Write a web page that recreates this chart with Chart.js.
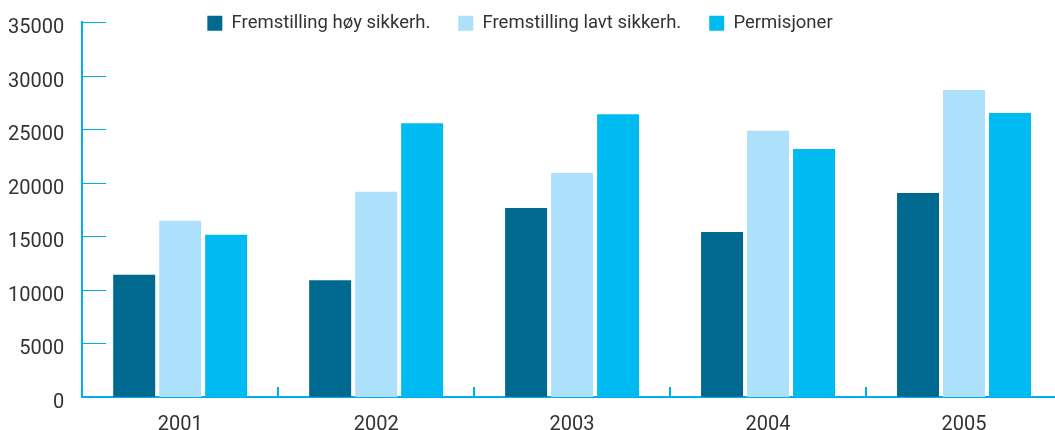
<!DOCTYPE html>
<html>
<head>
<meta charset="utf-8">
<script src="https://cdn.jsdelivr.net/npm/chart.js@4"></script>
<style>
  html, body { margin: 0; padding: 0; background: #fff; overflow: hidden; }
  #wrap { width: 1062px; height: 430px; position: relative; }
</style>
</head>
<body>
<div id="wrap"><canvas id="chart"></canvas></div>
<script>
// Data
const years = ['2001', '2002', '2003', '2004', '2005'];
const hoySikkerhet = [11400, 10900, 17650, 15400, 19050];
const lavtSikkerhet = [16450, 19150, 20900, 24850, 28650];
const permisjoner = [15150, 25550, 26400, 23150, 26500];
const seriesNames = ['Fremstilling høy sikkerh.', 'Fremstilling lavt sikkerh.', 'Permisjoner'];

const AXIS = '#00AEEF';
const TEXT = '#333333';

// short tick marks drawn inside the plot, like the original
const innerTicks = {
  id: 'innerTicks',
  afterDraw(chart) {
    const { ctx, chartArea, scales } = chart;
    ctx.save();
    ctx.strokeStyle = AXIS;
    ctx.lineWidth = 1;
    scales.y.ticks.forEach(t => {
      if (t.value === 0) return;
      const y = Math.round(scales.y.getPixelForValue(t.value)) + 0.5;
      ctx.beginPath();
      ctx.moveTo(chartArea.left, y);
      ctx.lineTo(chartArea.left + 24, y);
      ctx.stroke();
    });
    ctx.lineWidth = 2;
    for (let i = 1; i < years.length; i++) {
      const x = Math.round((scales.x.getPixelForValue(i - 1) + scales.x.getPixelForValue(i)) / 2);
      ctx.beginPath();
      ctx.moveTo(x, chartArea.bottom);
      ctx.lineTo(x, chartArea.bottom - 10);
      ctx.stroke();
    }
    ctx.restore();
  }
};

// legend floats over the top of the plot
const legendFloat = {
  id: 'legendFloat',
  beforeInit(chart) {
    const fit = chart.legend.fit;
    chart.legend.fit = function () {
      fit.call(this);
      this.height = 0;
    };
  },
  afterLayout(chart) {
    const lg = chart.legend;
    lg.top = -14;
    lg.bottom = 60;
    lg.left -= 10;
    lg.right -= 10;
  }
};

new Chart(document.getElementById('chart'), {
  type: 'bar',
  data: {
    labels: years,
    datasets: [
      { label: seriesNames[0], data: hoySikkerhet, backgroundColor: '#006990' },
      { label: seriesNames[1], data: lavtSikkerhet, backgroundColor: '#ADE0FA' },
      { label: seriesNames[2], data: permisjoner, backgroundColor: '#00BBF2' }
    ]
  },
  options: {
    responsive: true, maintainAspectRatio: false, animation: false,
    categoryPercentage: 0.704,
    barPercentage: 0.913,
    layout: { padding: { left: -2, top: -7, right: 0, bottom: -15 } },
    plugins: {
      legend: {
        position: 'top',
        labels: {
          boxWidth: 15, boxHeight: 15, padding: 28,
          color: TEXT,
          font: { family: 'Roboto', size: 18.5 }
        }
      },
      tooltip: { enabled: false }
    },
    scales: {
      y: {
        min: 0, max: 35000,
        ticks: {
          stepSize: 5000, padding: 10, labelOffset: 6, color: TEXT,
          font: { family: 'Roboto', size: 20 },
          callback: v => String(v)
        },
        grid: { display: false },
        border: { color: AXIS, width: 2 }
      },
      x: {
        ticks: { padding: 8, color: TEXT, font: { family: 'Roboto', size: 20 } },
        grid: { display: false },
        border: { color: AXIS, width: 2 }
      }
    }
  },
  plugins: [innerTicks, legendFloat]
});
</script>
</body>
</html>
